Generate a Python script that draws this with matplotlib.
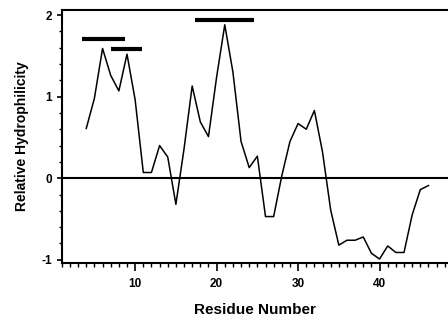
import matplotlib.pyplot as plt
from matplotlib.ticker import MultipleLocator

plt.rcParams['font.family'] = ['Liberation Sans', 'DejaVu Sans']
plt.rcParams['axes.unicode_minus'] = False

# hydrophilicity profile
residue = list(range(4, 47))
hydro = [0.61, 0.98, 1.59, 1.26, 1.07, 1.52, 0.96, 0.07, 0.07, 0.40,
         0.26, -0.32, 0.36, 1.13, 0.69, 0.51, 1.24, 1.88, 1.30, 0.45,
         0.13, 0.27, -0.47, -0.47, 0.03, 0.45, 0.67, 0.60, 0.83, 0.32,
         -0.39, -0.82, -0.76, -0.76, -0.72, -0.92, -0.99, -0.83, -0.91, -0.91,
         -0.45, -0.14, -0.09]

# marked regions (start, end, level)
seg_start = [3.5, 7.0, 17.4]
seg_end = [8.8, 10.8, 24.6]
seg_level = [1.70, 1.58, 1.94]

fig = plt.figure(figsize=(4.48, 3.26), dpi=100)
ax = fig.add_axes([0.138, 0.193, 0.862, 0.776])

ax.plot(residue, hydro, color='black', lw=1.1)
ax.axhline(0, color='black', lw=1.5)
ax.hlines(seg_level, seg_start, seg_end, color='black', lw=3)

ax.set_xlim(1, 48.4)
ax.set_ylim(-1.04, 2.06)
ax.xaxis.set_major_locator(MultipleLocator(10))
ax.xaxis.set_minor_locator(MultipleLocator(1))
ax.yaxis.set_major_locator(MultipleLocator(1))
ax.yaxis.set_minor_locator(MultipleLocator(0.2))

ax.spines['right'].set_visible(False)
for s in ['left', 'bottom', 'top']:
    ax.spines[s].set_linewidth(1.5)

ax.tick_params(axis='x', which='major', length=6, width=1.2, direction='out', pad=5)
ax.tick_params(axis='x', which='minor', length=3, width=1, direction='out')
ax.tick_params(axis='y', which='major', length=3.5, width=1.2, direction='out')
ax.tick_params(axis='y', which='minor', length=2, width=1, direction='out')
for lab in ax.get_xticklabels() + ax.get_yticklabels():
    lab.set_fontweight('bold')
    lab.set_fontsize(8.5)

ax.set_xlabel('Residue Number', fontsize=11, fontweight='bold', labelpad=9)
ax.set_ylabel('Relative Hydrophilicity', fontsize=10, fontweight='bold', labelpad=9)

fig.savefig('out.png', dpi=100)
